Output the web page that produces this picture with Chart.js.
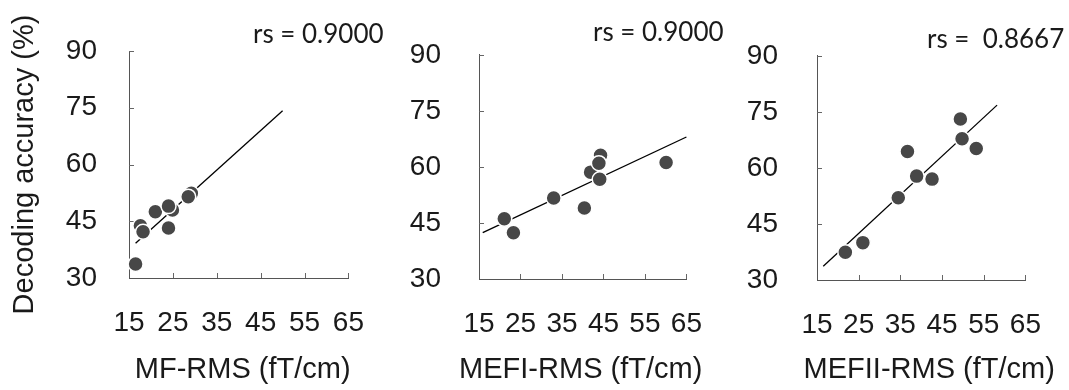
<!DOCTYPE html>
<html>
<head>
<meta charset="utf-8">
<script src="https://cdn.jsdelivr.net/npm/chart.js@4.4.1/dist/chart.umd.min.js"></script>
<style>
  html, body { margin: 0; padding: 0; background: #fff; }
  #wrap { position: relative; width: 1069px; height: 390px; overflow: hidden; }
  canvas { position: absolute; top: 0; }
</style>
</head>
<body>
<div id="wrap">
  <canvas id="c1" width="392" height="390" style="left:0px"></canvas>
  <canvas id="c2" width="340" height="390" style="left:390px"></canvas>
  <canvas id="c3" width="339" height="390" style="left:730px"></canvas>
</div>
<script>
"use strict";

// ticks compartidos
const xTicks = [15, 25, 35, 45, 55, 65];
const yTicks = [30, 45, 60, 75, 90];
const yTitle = "Decoding accuracy (%)";

// MF-RMS
const mfX = [16.5, 17.6, 18.2, 21, 24.9, 24, 24, 29.2, 28.5];
const mfY = [33.7, 43.8, 42.2, 47.5, 48, 49, 43.2, 52.4, 51.5];
const mfFitX = [16.5, 50];
const mfFitY = [39.2, 74.2];

// MEFI-RMS
const mefiX = [21.1, 23.3, 33, 40.4, 41.9, 44.1, 44.3, 43.9, 60.1];
const mefiY = [46.1, 42.4, 51.7, 49, 58.6, 56.7, 63.1, 61, 61.2];
const mefiFitX = [15.9, 65];
const mefiFitY = [42.4, 68];

// MEFII-RMS
const mefiiX = [21.8, 26, 34.5, 36.7, 38.9, 42.6, 49.4, 49.8, 53.2];
const mefiiY = [37.4, 40, 52, 64.4, 57.8, 57, 73.1, 67.8, 65.2];
const mefiiFitX = [16.5, 58.2];
const mefiiFitY = [33.7, 76.8];

const axisColor = "#555";
const textColor = "#1a1a1a";

// marcas cortas hacia dentro del eje
const innerTicks = {
  id: "innerTicks",
  beforeDatasetsDraw(chart) {
    const { ctx, chartArea, scales } = chart;
    ctx.save();
    ctx.strokeStyle = "#666";
    ctx.lineWidth = 1;
    ctx.beginPath();
    xTicks.slice(1).forEach((v) => {
      const px = Math.round(scales.x.getPixelForValue(v)) + 0.5;
      ctx.moveTo(px, chartArea.bottom);
      ctx.lineTo(px, chartArea.bottom - 5);
    });
    yTicks.slice(1).forEach((v) => {
      const py = Math.round(scales.y.getPixelForValue(v)) + 0.5;
      ctx.moveTo(chartArea.left, py);
      ctx.lineTo(chartArea.left + 5, py);
    });
    ctx.stroke();
    ctx.restore();
  },
};

// texto rs arriba y titulo del eje x (sin comprimir)
const panelText = {
  id: "panelText",
  afterDraw(chart, args, opts) {
    const { ctx, chartArea } = chart;
    ctx.save();
    ctx.fillStyle = textColor;
    ctx.textBaseline = "middle";
    ctx.textAlign = "left";
    ctx.font = "26px Lato";
    ctx.fillText(opts.rs, opts.rsX, opts.rsY);
    ctx.textAlign = "center";
    ctx.font = "29px 'Liberation Sans'";
    ctx.fillText(opts.xTitle, (chartArea.left + chartArea.right) / 2 + opts.titleDx, 370);
    ctx.restore();
  },
};

function toPoints(xs, ys) {
  return xs.map((x, i) => ({ x: x, y: ys[i] }));
}

function makePanel(id, p) {
  const config = {
    type: "scatter",
    data: {
      datasets: [
        {
          data: toPoints(p.xs, p.ys),
          pointRadius: 7.5,
          pointBackgroundColor: "#474747",
          pointBorderColor: "#fff",
          pointBorderWidth: 1.5,
          order: 0,
          clip: false,
        },
        {
          type: "line",
          data: toPoints(p.fitX, p.fitY),
          borderColor: "#000",
          borderWidth: 1.3,
          pointRadius: 0,
          fill: false,
          order: 1,
          clip: false,
        },
      ],
    },
    options: {
      responsive: false,
      animation: false,
      events: [],
      layout: { padding: { left: 0, top: p.top, right: p.right, bottom: 0 } },
      plugins: {
        legend: { display: false },
        tooltip: { enabled: false },
        panelText: p.text,
      },
      scales: {
        x: {
          type: "linear",
          min: 15,
          max: 65,
          afterBuildTicks: (s) => { s.ticks = xTicks.map((v) => ({ value: v })); },
          afterFit: (s) => { s.height = p.xHeight; },
          grid: { display: false, drawTicks: false },
          border: { display: true, color: axisColor, width: 1 },
          ticks: {
            font: { family: "Liberation Sans", size: 28 },
            color: textColor,
            padding: 28,
            maxRotation: 0,
          },
        },
        y: {
          type: "linear",
          min: 30,
          max: 90,
          afterBuildTicks: (s) => { s.ticks = yTicks.map((v) => ({ value: v })); },
          afterFit: (s) => { s.width = p.yWidth; },
          grid: { display: false, drawTicks: false },
          border: { display: true, color: axisColor, width: 1 },
          ticks: {
            font: { family: "Liberation Sans", size: 28 },
            color: textColor,
            padding: p.yPad,
          },
          title: {
            display: p.showYTitle,
            text: yTitle,
            font: { family: "Liberation Sans", size: 29 },
            color: textColor,
            padding: { top: 8, bottom: 0 },
          },
        },
      },
    },
    plugins: [innerTicks, panelText],
  };
  return new Chart(document.getElementById(id), config);
}

makePanel("c1", {
  xs: mfX, ys: mfY, fitX: mfFitX, fitY: mfFitY, showYTitle: true,
  top: 51, right: 30, xHeight: 112, yWidth: 129, yPad: 32,
  text: { rs: "rs = 0.9000", rsX: 253, rsY: 35, xTitle: "MF-RMS (fT/cm)", titleDx: 4 },
});

makePanel("c2", {
  xs: mefiX, ys: mefiY, fitX: mefiFitX, fitY: mefiFitY, showYTitle: false,
  top: 51, right: 23, xHeight: 111, yWidth: 89, yPad: 38,
  text: { rs: "rs = 0.9000", rsX: 203, rsY: 33, xTitle: "MEFI-RMS (fT/cm)", titleDx: -2 },
});

makePanel("c3", {
  xs: mefiiX, ys: mefiiY, fitX: mefiiFitX, fitY: mefiiFitY, showYTitle: false,
  top: 52, right: 24, xHeight: 110, yWidth: 87, yPad: 39,
  text: { rs: "rs =  0.8667", rsX: 197, rsY: 40, xTitle: "MEFII-RMS (fT/cm)", titleDx: 8 },
});
</script>
</body>
</html>
